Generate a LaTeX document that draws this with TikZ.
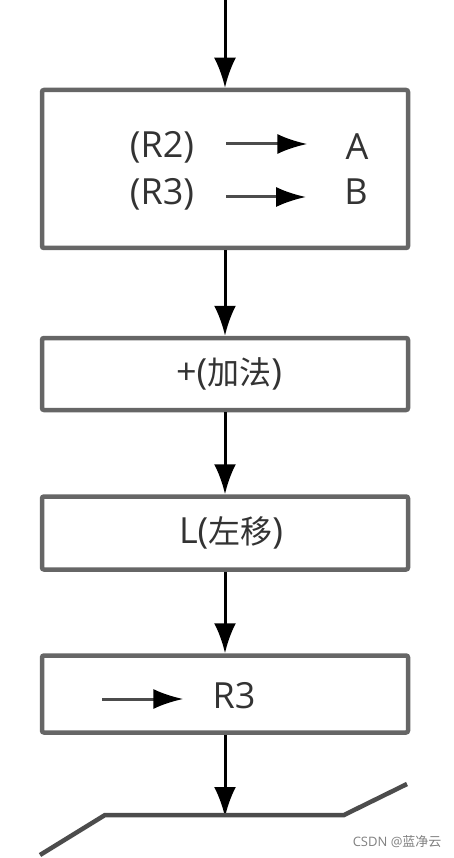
\documentclass[tikz,border=0pt]{standalone}
\usepackage{fontspec}
\setmainfont{Open Sans}
\newfontfamily\cjk{Noto Sans CJK SC}
\usetikzlibrary{arrows.meta,positioning}

\begin{document}
\begin{tikzpicture}[x=1pt,y=-1pt,
    stepbox/.style={
      draw=black!60,line width=4.5pt,rounded corners=2pt,
      fill=white,minimum width=366pt,inner sep=0pt,
      text=black!80,font=\fontsize{36}{40}\selectfont
    },
    flow/.style={
      line width=3pt,-{Latex[length=30pt,width=22pt]}
    },
    inflow/.style={
      flow,draw=black!70,-{Latex[length=30pt,width=20pt,black]},
      shorten <=32pt,shorten >=38pt
    },
    lbl/.style={
      text=black!80,font=\fontsize{36}{40}\selectfont,inner sep=0pt
    }]
      \useasboundingbox (0,0) rectangle (453,858);

      % steps
      \node[stepbox,minimum height=158pt] (load) at (225,169) {};
      \node[stepbox,minimum height=72pt] (add) at (225,374)
        {\hspace*{8pt}+({\cjk\fontsize{32}{36}\selectfont 加法})};
      \node[stepbox,minimum height=73pt] (shift) at (225,533)
        {\hspace*{12pt}L({\cjk\fontsize{32}{36}\selectfont 左移})};
      \node[stepbox,minimum height=77pt] (store) at (225,694) {};

      % transfers inside the first step
      \node[lbl] (r2) at (162,147) {(R2)};
      \node[lbl] (a) at (357,147) {A};
      \node[lbl] (r3) at (162,194) {(R3)};
      \node[lbl] (b) at (356,192) {B};
      \draw[inflow] (r2.east |- 0,144) -- (a.west |- 0,144);
      \draw[inflow] (r3.east |- 0,197) -- (b.west |- 0,197);

      % result into R3
      \node[lbl] (r3out) at (234,696) {R3};
      \coordinate (src) at (102,699);
      \draw[inflow,shorten <=0pt,shorten >=29pt] (src) -- (r3out.west |- src);

      % connectors
      \coordinate (start) at (225,0);
      \coordinate (stop) at (225,815);
      \draw[flow] (start) -- (load);
      \draw[flow] (load) -- (add);
      \draw[flow] (add) -- (shift);
      \draw[flow] (shift) -- (store);
      \draw[flow,shorten >=-2pt] (store) -- (stop);

      % next block, cut off
      \draw[line width=4.5pt,black!70] (40,855) -- (105,815) -- (344,815) -- (407,784);

      \node[text=black!50,font=\fontsize{13}{15}\selectfont,anchor=east] (mark) at (445,842)
        {CSDN @{\cjk 蓝净云}};
  \end{tikzpicture}
\end{document}
